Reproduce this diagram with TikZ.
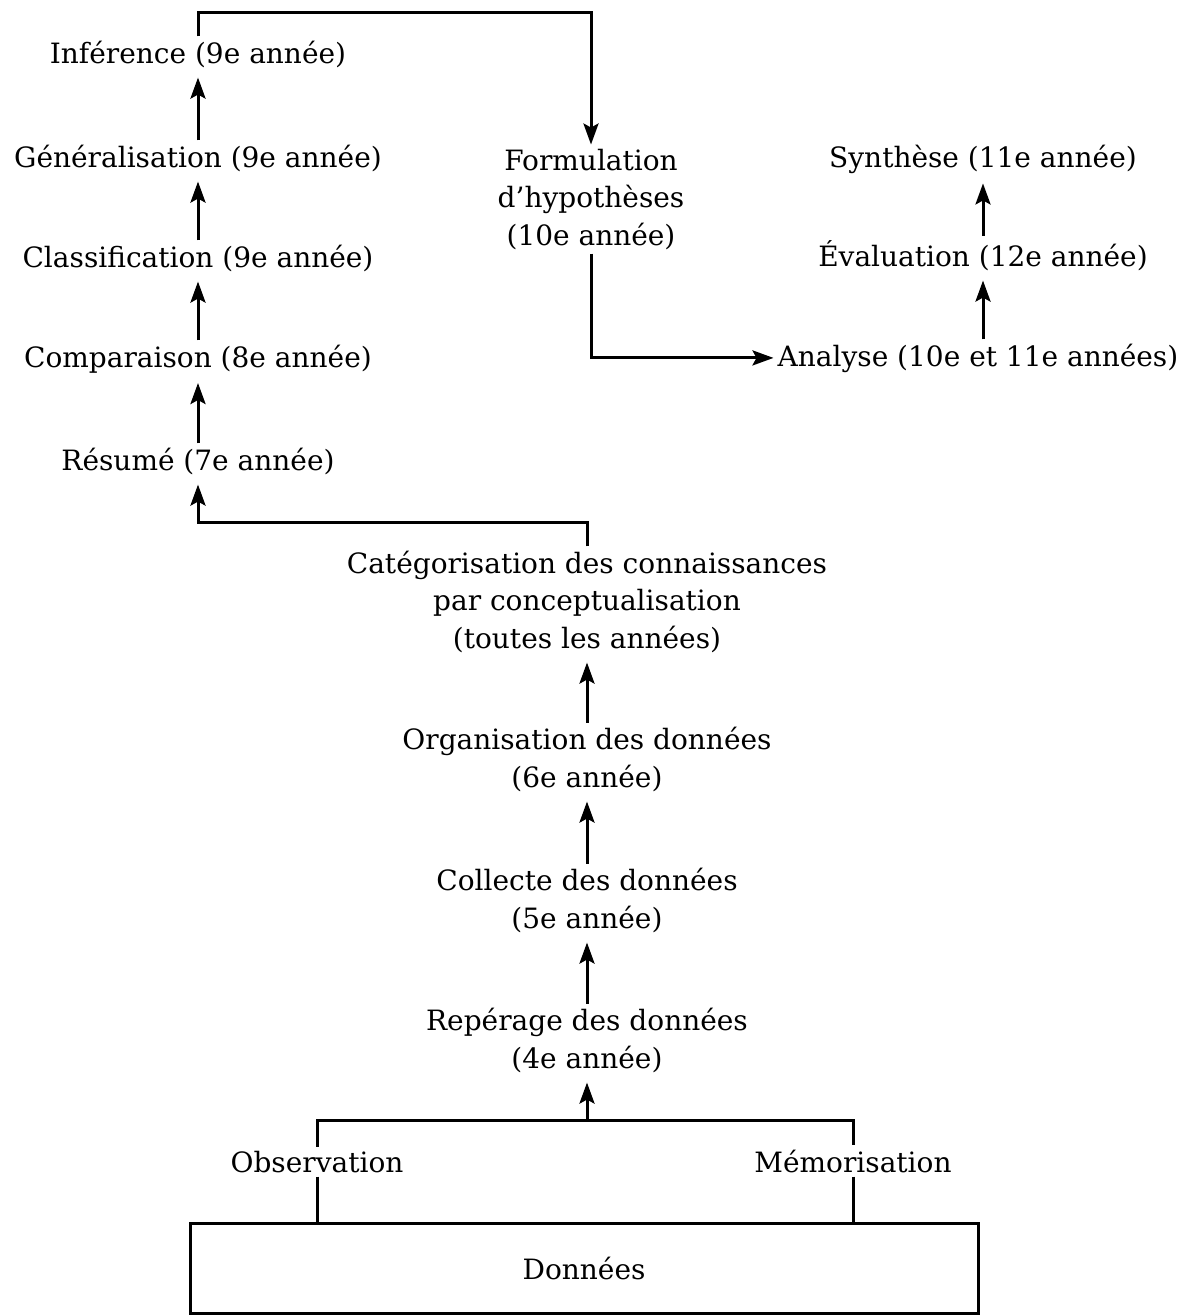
\documentclass[tikz,border=0pt]{standalone}
\usepackage{fontspec}
\setmainfont{DejaVu Serif}
\usepackage{tikz}
\usetikzlibrary{arrows.meta, positioning}

\begin{document}
\begin{tikzpicture}[x=1pt, y=-1pt,
    stage/.style={font=\fontsize{28}{37.5}\selectfont, align=center,
                  inner sep=4pt, anchor=base},
    wire/.style={line width=3pt},
    arrow/.style={wire, -{Stealth[length=21pt, width=15pt, inset=4pt]},
                  shorten >=6pt}
]
    \useasboundingbox (0,0) rectangle (1190,1315);
    \node[stage] (inf) at (198,63) {Inférence (9e année)};
    \node[stage] (gen) at (198,167) {Généralisation (9e année)};
    \node[stage] (cla) at (198,267) {Classification (9e année)};
    \node[stage] (com) at (198,367) {Comparaison (8e année)};
    \node[stage] (res) at (198,470) {Résumé (7e année)};
    \node[stage] (form) at (591,245) {Formulation\\d’hypothèses\\(10e année)};
    \node[stage] (syn) at (983,167) {Synthèse (11e année)};
    \node[stage] (eva) at (983,266) {Évaluation (12e année)};
    \node[stage] (ana) at (978,366) {Analyse (10e et 11e années)};
    \node[stage] (cat) at (587,648) {Catégorisation des connaissances\\par conceptualisation\\(toutes les années)};
    \node[stage] (org) at (587,787) {Organisation des données\\(6e année)};
    \node[stage] (col) at (587,928) {Collecte des données\\(5e année)};
    \node[stage] (rep) at (587,1068) {Repérage des données\\(4e année)};
    \node[stage] (obs) at (317,1172) {Observation};
    \node[stage] (mem) at (853,1172) {Mémorisation};
    \node[draw, line width=3pt, minimum width=788pt, minimum height=90pt,
          font=\fontsize{28}{37.5}\selectfont] (data) at (584,1268) {Données};

    \coordinate (top) at (0,12);
    \coordinate (fork) at (587,1120);

    \draw[arrow] (gen.north) -- (inf.south);
    \draw[arrow] (cla.north) -- (gen.south);
    \draw[arrow] (com.north) -- (cla.south);
    \draw[arrow] (res.north) -- (com.south);
    \draw[arrow] (cat.north) -- ++(0,-24) -| (res.south);
    \draw[arrow, shorten >=0pt] (inf.north) -- (inf.north |- top) -| (form.north);
    \draw[arrow, shorten >=0pt] (form.south) |- (ana.west);
    \draw[arrow] (ana.north -| eva.south) -- (eva.south);
    \draw[arrow] (eva.north) -- (syn.south);
    \draw[arrow] (org.north) -- (cat.south);
    \draw[arrow] (col.north) -- (org.south);
    \draw[arrow] (rep.north) -- (col.south);
    \draw[wire] (obs.north) |- (fork) -| (mem.north);
    \draw[arrow] (fork) -- (rep.south);
    \draw[wire] (obs.south) -- (obs.south |- data.north);
    \draw[wire] (mem.south) -- (mem.south |- data.north);
\end{tikzpicture}
\end{document}
